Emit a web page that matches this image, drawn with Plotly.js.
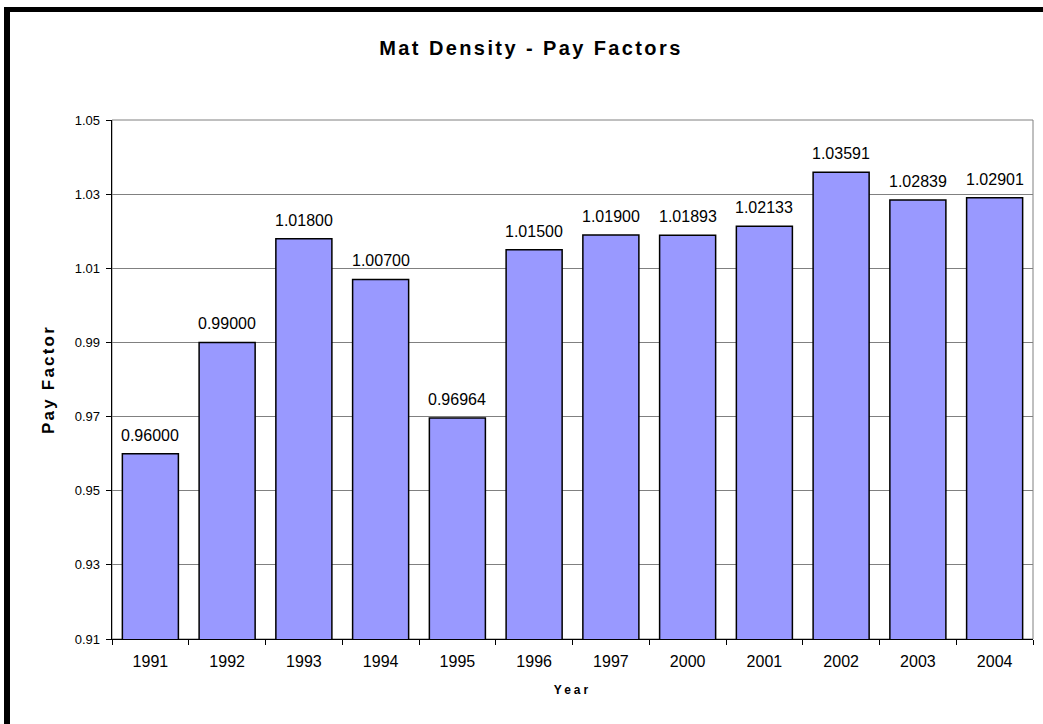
<!DOCTYPE html>
<html>
<head>
<meta charset="utf-8">
<script src="https://cdn.plot.ly/plotly-3.0.1.min.js"></script>
<style>
  html, body { margin: 0; padding: 0; background: #fff; }
  #chart { width: 1043px; height: 724px; }
  .gtitle { letter-spacing: 2.4px; }
  .xtitle { letter-spacing: 3px; }
  .ytitle { letter-spacing: 2.2px; }
</style>
</head>
<body>
<div id="chart"></div>
<script>
// ---- data ----
const years = ['1991','1992','1993','1994','1995','1996','1997','2000','2001','2002','2003','2004'];
const payFactors = [0.96000, 0.99000, 1.01800, 1.00700, 0.96964, 1.01500, 1.01900, 1.01893, 1.02133, 1.03591, 1.02839, 1.02901];
const yTickVals = [0.91, 0.93, 0.95, 0.97, 0.99, 1.01, 1.03, 1.05];
const yTickText = ['0.91', '0.93', '0.95', '0.97', '0.99', '1.01', '1.03', '1.05'];
const chartTitle = 'Mat Density - Pay Factors';
const xTitle = 'Year';
const yTitle = 'Pay Factor';

// ---- layout geometry ----
const W = 1043, H = 724;
const M = { l: 112, r: 10, t: 120, b: 85 };
const PW = W - M.l - M.r, PH = H - M.t - M.b;
const px = x => (x - M.l) / PW;
const py = y => (H - M.b - y) / PH;

const FONT = 'Arial, "Liberation Sans", Helvetica, sans-serif';

const trace = {
  type: 'bar',
  x: years,
  y: payFactors,
  marker: { color: '#9999FF', line: { color: '#000000', width: 1.5 } },
  hoverinfo: 'x+y'
};

// category axis: annotations are placed by category index
const annotations = years.map((yr, i) => ({
  x: i, y: payFactors[i], xref: 'x', yref: 'y',
  text: payFactors[i].toFixed(5),
  showarrow: false, yanchor: 'bottom', yshift: 8,
  font: { family: FONT, size: 16, color: '#000' }
}));

const layout = {
  width: W, height: H,
  margin: M,
  paper_bgcolor: '#ffffff',
  plot_bgcolor: '#ffffff',
  showlegend: false,
  bargap: 0.27,
  font: { family: FONT, color: '#000' },
  title: {
    text: '<b>' + chartTitle + '</b>',
    font: { family: FONT, size: 20, color: '#000' },
    x: 531 / W, xanchor: 'center', xref: 'container',
    y: 1 - 48 / H, yanchor: 'middle', yref: 'container'
  },
  xaxis: {
    type: 'category',
    categoryorder: 'array', categoryarray: years,
    range: [-0.5, years.length - 0.5],
    tickson: 'boundaries',
    ticks: 'outside', ticklen: 5, tickcolor: '#000', tickwidth: 1,
    tickangle: 0,
    ticklabelstandoff: 8,
    showline: true, linecolor: '#000', linewidth: 1,
    showgrid: false, zeroline: false,
    tickfont: { family: FONT, size: 16, color: '#000' },
    title: { text: '<b>' + xTitle + '</b>', font: { family: FONT, size: 12, color: '#000' }, standoff: 16 }
  },
  yaxis: {
    range: [0.91, 1.05],
    tickvals: yTickVals, ticktext: yTickText,
    ticks: 'outside', ticklen: 5, tickcolor: '#000', tickwidth: 1,
    ticklabelstandoff: 3,
    showline: true, linecolor: '#000', linewidth: 1.3,
    showgrid: true, gridcolor: '#808080', gridwidth: 1,
    zeroline: false,
    tickfont: { family: FONT, size: 13, color: '#000' },
    title: { text: '<b>' + yTitle + '</b>', font: { family: FONT, size: 17, color: '#000' }, standoff: 15 }
  },
  annotations: annotations,
  shapes: [
    { type: 'rect', xref: 'paper', yref: 'paper', x0: 0, x1: 1, y0: 0, y1: 1,
      line: { color: '#808080', width: 1 }, layer: 'below' },
    { type: 'line', xref: 'paper', yref: 'paper', x0: px(7), x1: px(7), y0: py(7), y1: py(730),
      line: { color: '#000', width: 6 } },
    { type: 'line', xref: 'paper', yref: 'paper', x0: px(4), x1: px(1050), y0: py(9.5), y1: py(9.5),
      line: { color: '#000', width: 5 } }
  ]
};

Plotly.newPlot('chart', [trace], layout, { displayModeBar: false, staticPlot: true });
</script>
</body>
</html>
